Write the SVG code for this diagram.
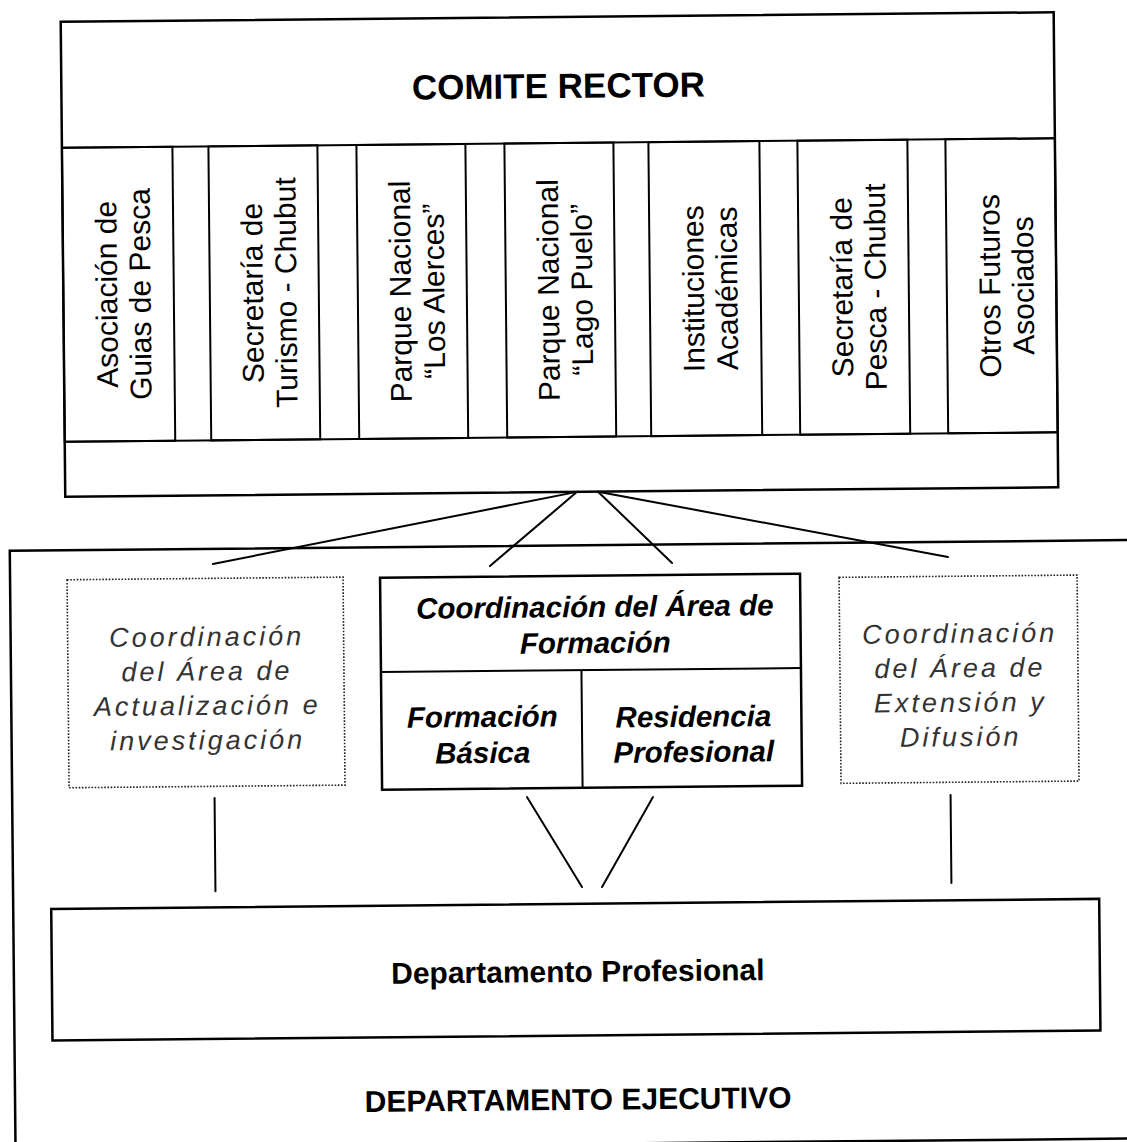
<svg xmlns="http://www.w3.org/2000/svg" width="1127" height="1142" viewBox="0 0 1127 1142">
<style>
.box{fill:#fff;stroke:#000;stroke-width:2.5}
.frame{fill:none;stroke:#000;stroke-width:2.5}
.ln{fill:none;stroke:#000;stroke-width:2}
.dot{fill:#fff;stroke:#222;stroke-width:1.6;stroke-dasharray:1.6 1.6}
#connectors line{stroke:#000;stroke-width:2;stroke-linecap:round}
.t{font-family:"Liberation Sans",Arial,Helvetica,sans-serif;fill:#000}
.vt{font-size:30px;text-anchor:middle}
.title{font-size:35px;font-weight:bold;text-anchor:middle}
.bi{font-size:29.5px;font-weight:bold;font-style:italic;text-anchor:middle}
.it{font-size:27px;font-style:italic;letter-spacing:3px;text-anchor:middle;fill:#333}
.b30{font-size:30px;font-weight:bold;text-anchor:middle}
</style>
<rect width="1127" height="1142" fill="#fff"/>
<g transform="rotate(-0.55 563 571)">
  <g id="departamento-ejecutivo">
    <rect class="frame" x="10" y="545.5" width="1200" height="598.5"/>
    <text class="t b30" x="573" y="1110">DEPARTAMENTO EJECUTIVO</text>
  </g>
  <g id="comite-rector">
    <rect class="box" x="66" y="17" width="993" height="475"/>
    <line class="ln" x1="66" y1="143" x2="1059" y2="143"/>
    <line class="ln" x1="66" y1="437" x2="1059" y2="437"/>
    <text class="t title" x="563" y="98">COMITE RECTOR</text>
  </g>
  <g id="asociacion-guias">
    <rect class="ln" x="66" y="143" width="110.5" height="294"/>
    <text class="t vt" transform="translate(121.25 290) rotate(-90)"><tspan x="0" y="-1.5">Asociación de</tspan><tspan x="0" y="32">Guias de Pesca</tspan></text>
  </g>
  <g id="secretaria-turismo">
    <rect class="ln" x="212.5" y="143" width="109" height="294"/>
    <text class="t vt" transform="translate(267 290) rotate(-90)"><tspan x="0" y="-1.5">Secretaría de</tspan><tspan x="0" y="32">Turismo - Chubut</tspan></text>
  </g>
  <g id="pn-los-alerces">
    <rect class="ln" x="360.5" y="143" width="109" height="294"/>
    <text class="t vt" transform="translate(415 290) rotate(-90)"><tspan x="0" y="-1.5">Parque Nacional</tspan><tspan x="0" y="32">“Los Alerces”</tspan></text>
  </g>
  <g id="pn-lago-puelo">
    <rect class="ln" x="508.5" y="143" width="109" height="294"/>
    <text class="t vt" transform="translate(563 290) rotate(-90)"><tspan x="0" y="-1.5">Parque Nacional</tspan><tspan x="0" y="32">“Lago Puelo”</tspan></text>
  </g>
  <g id="instituciones-academicas">
    <rect class="ln" x="652.5" y="143" width="111" height="294"/>
    <text class="t vt" transform="translate(708 290) rotate(-90)"><tspan x="0" y="-1.5">Instituciones</tspan><tspan x="0" y="32">Académicas</tspan></text>
  </g>
  <g id="secretaria-pesca">
    <rect class="ln" x="801.5" y="143" width="110" height="294"/>
    <text class="t vt" transform="translate(856.5 290) rotate(-90)"><tspan x="0" y="-1.5">Secretaría de</tspan><tspan x="0" y="32">Pesca - Chubut</tspan></text>
  </g>
  <g id="otros-futuros">
    <rect class="ln" x="949.5" y="143" width="109.5" height="294"/>
    <text class="t vt" transform="translate(1004.25 290) rotate(-90)"><tspan x="0" y="-1.5">Otros Futuros</tspan><tspan x="0" y="32">Asociados</tspan></text>
  </g>
  <g id="connectors">
    <line x1="577.8" y1="492" x2="213" y2="560.6"/>
    <line x1="577.8" y1="492" x2="490" y2="565.3"/>
    <line x1="598.8" y1="492" x2="672.1" y2="564"/>
    <line x1="598.8" y1="492" x2="948.1" y2="560.7"/>
    <line x1="212.4" y1="794.6" x2="212.4" y2="888"/>
    <line x1="524.8" y1="796.7" x2="579" y2="887.2"/>
    <line x1="650.8" y1="797.9" x2="599" y2="887.4"/>
    <line x1="948.4" y1="798.7" x2="948.4" y2="886.7"/>
  </g>
  <g id="area-actualizacion">
    <rect class="dot" x="67" y="575" width="276" height="208"/>
    <text class="t it"><tspan x="206" y="642.5">Coordinación</tspan><tspan x="206" y="677">del Área de</tspan><tspan x="206" y="711.5">Actualización e</tspan><tspan x="206" y="746">investigación</tspan></text>
  </g>
  <g id="area-formacion">
    <rect class="box" x="380" y="576" width="420" height="212"/>
    <line class="ln" x1="380" y1="670.3" x2="800" y2="670.3"/>
    <text class="t bi"><tspan x="594.5" y="617.3">Coordinación del Área de</tspan><tspan x="594.5" y="653.3">Formación</tspan></text>
  </g>
  <g id="formacion-basica">
    <line class="ln" x1="580.5" y1="670.3" x2="580.5" y2="788"/>
    <text class="t bi"><tspan x="481" y="726.2">Formación</tspan><tspan x="481" y="762.2">Básica</tspan></text>
  </g>
  <g id="residencia-profesional">
    <text class="t bi"><tspan x="692" y="728">Residencia</tspan><tspan x="692" y="763.3">Profesional</tspan></text>
  </g>
  <g id="area-extension">
    <rect class="dot" x="839" y="580" width="238" height="206"/>
    <text class="t it"><tspan x="959" y="646.5">Coordinación</tspan><tspan x="959" y="681">del Área de</tspan><tspan x="959" y="715.5">Extensión y</tspan><tspan x="959" y="750">Difusión</tspan></text>
  </g>
  <g id="departamento-profesional">
    <rect class="box" x="48" y="904" width="1048" height="131.6"/>
    <text class="t b30" x="574" y="982">Departamento Profesional</text>
  </g>
</g>
</svg>
